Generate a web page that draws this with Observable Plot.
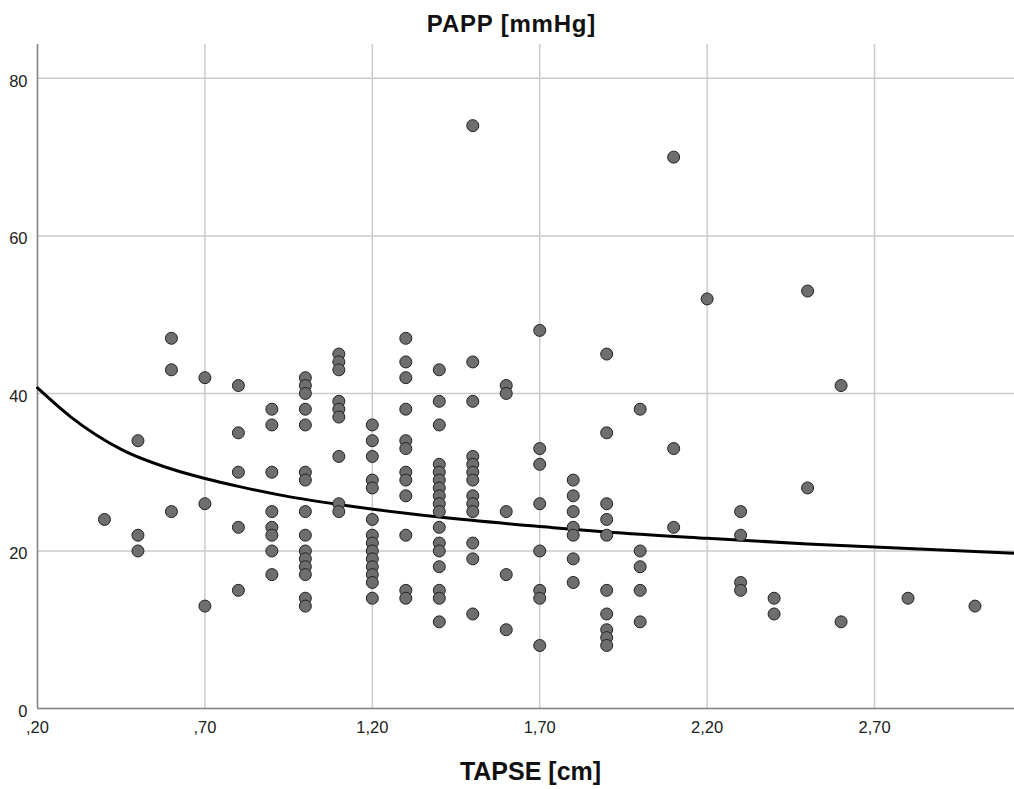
<!DOCTYPE html>
<html>
<head>
<meta charset="utf-8">
<script src="https://cdn.jsdelivr.net/npm/d3@7"></script>
<script src="https://cdn.jsdelivr.net/npm/@observablehq/plot@0.6"></script>
<style>
  body { margin: 0; background: #fff; font-family: "Liberation Sans", Arial, sans-serif; }
  #wrap { position: relative; width: 1014px; height: 789px; overflow: hidden; }
  #title { position: absolute; left: 0; top: 12px; width: 1023px; text-align: center; font-weight: bold; font-size: 24px; letter-spacing: 0.8px; color: #111; line-height: 24px; white-space: nowrap; }
  #chart { position: absolute; left: 0; top: 44px; }
  #xlabel { position: absolute; left: 0; top: 758px; width: 1061px; text-align: center; font-weight: bold; font-size: 25px; color: #111; line-height: 26px; white-space: nowrap; }
</style>
</head>
<body>
<div id="wrap">
  <div id="title">PAPP [mmHg]</div>
  <div id="chart"></div>
  <div id="xlabel">TAPSE [cm]</div>
</div>
<script>
// TAPSE columns (cm) and PAPP values (mmHg) read in each column
const tapseColumns = [0.4, 0.5, 0.6, 0.7, 0.8, 0.9, 1.0, 1.1, 1.2, 1.3, 1.4, 1.5, 1.6, 1.7, 1.8, 1.9, 2.0, 2.1, 2.2, 2.3, 2.4, 2.5, 2.6, 2.8, 3.0];
const pappByColumn = [
  [24],
  [34, 22, 20],
  [47, 43, 25],
  [42, 26, 13],
  [41, 35, 30, 23, 15],
  [38, 36, 30, 25, 23, 22, 20, 17],
  [42, 41, 40, 38, 36, 30, 29, 25, 22, 20, 19, 18, 17, 14, 13],
  [45, 44, 43, 39, 38, 37, 32, 26, 25],
  [36, 34, 32, 29, 28, 24, 22, 21, 20, 19, 18, 17, 16, 14],
  [47, 44, 42, 38, 34, 33, 30, 29, 27, 22, 15, 14],
  [43, 39, 36, 31, 30, 29, 28, 27, 26, 25, 23, 21, 20, 18, 15, 14, 11],
  [74, 44, 39, 32, 31, 30, 29, 27, 26, 25, 21, 19, 12],
  [41, 40, 25, 17, 10],
  [48, 33, 31, 26, 20, 15, 14, 8],
  [29, 27, 25, 23, 22, 19, 16],
  [45, 35, 26, 24, 22, 15, 12, 10, 9, 8],
  [38, 20, 18, 15, 11],
  [70, 33, 23],
  [52],
  [25, 22, 16, 15],
  [14, 12],
  [53, 28],
  [41, 11],
  [14],
  [13]
];

// Fitted curve, points
const curveX = [0.2, 0.3, 0.45, 0.6, 0.7, 0.8, 0.95, 1.1, 1.4, 1.73, 1.9, 2.2, 2.5, 2.7, 3.118];
const curveY = [40.7, 37.0, 32.9, 30.4, 29.2, 28.2, 26.9, 25.9, 24.3, 23.0, 22.4, 21.6, 20.9, 20.5, 19.7];

// Axis ticks
const xTicks = [0.2, 0.7, 1.2, 1.7, 2.2, 2.7];
const xTickLabels = [",20", ",70", "1,20", "1,70", "2,20", "2,70"];
const yTicks = [0, 20, 40, 60, 80];
const yTickLabels = ["0", "20", "40", "60", "80"];

const points = tapseColumns.flatMap((x, i) => pappByColumn[i].map(y => ({x, y})));
const curve = curveX.map((x, i) => ({x, y: curveY[i]}));
const xLab = new Map(xTicks.map((t, i) => [t, xTickLabels[i]]));
const yLab = new Map(yTicks.map((t, i) => [t, yTickLabels[i]]));

const chart = Plot.plot({
  width: 1014,
  height: 700,
  marginTop: 0,
  marginRight: 0,
  marginBottom: 36,
  marginLeft: 37,
  x: {domain: [0.2, 3.118], label: null},
  y: {domain: [0, 84.3], label: null},
  style: {fontFamily: '"Liberation Sans", Arial, sans-serif', fontSize: "16.5px", color: "#222", overflow: "visible", background: "#fff"},
  marks: [
    Plot.gridX(xTicks, {stroke: "#cbcbcb", strokeOpacity: 1, strokeWidth: 1.5}),
    Plot.gridY(yTicks, {stroke: "#cbcbcb", strokeOpacity: 1, strokeWidth: 1.5}),
    Plot.ruleX([0.2], {stroke: "#888", strokeWidth: 1.5}),
    Plot.ruleY([0], {stroke: "#888", strokeWidth: 1.5}),
    Plot.axisX(xTicks, {tickSize: 0, tickPadding: 13, tickFormat: d => xLab.get(d), label: null}),
    Plot.axisY(yTicks, {tickSize: 0, tickPadding: 10, dy: 3, tickFormat: d => yLab.get(d), label: null}),
    Plot.line(curve, {x: "x", y: "y", curve: "monotone-x", stroke: "#000", strokeWidth: 3}),
    Plot.dot(points, {x: "x", y: "y", r: 6, fill: "#6e6e6e", stroke: "#222", strokeWidth: 1})
  ]
});
document.getElementById("chart").appendChild(chart);
</script>
</body>
</html>
